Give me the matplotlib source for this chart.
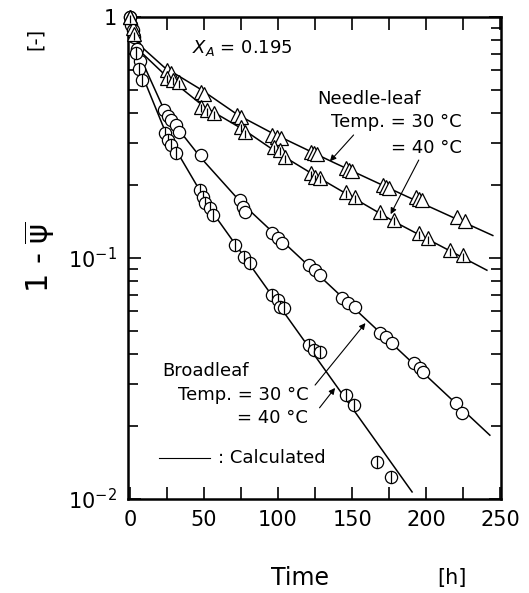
import matplotlib.pyplot as plt
from matplotlib.ticker import NullFormatter

# ---- measured points: broadleaf (circles) ----
b30_t = [0, 1, 3, 5, 7, 23, 26, 28, 31, 33, 48, 74, 76, 78, 96, 100, 103,
         121, 125, 128, 143, 147, 152, 169, 173, 177, 192, 196, 198, 220, 224]
b30_v = [1.0, 0.93, 0.83, 0.74, 0.66, 0.41, 0.39, 0.374, 0.356, 0.333, 0.267,
         0.174, 0.163, 0.155, 0.127, 0.121, 0.115, 0.0935, 0.089, 0.085,
         0.068, 0.065, 0.0626, 0.049, 0.047, 0.0444, 0.0367, 0.035, 0.0336,
         0.025, 0.0228]

b40_t = [0, 2, 4, 6, 8, 24, 26, 28, 31, 47, 49, 51, 54, 56, 71, 77, 81,
         96, 100, 101, 104, 121, 124, 128, 146, 151, 167, 176]
b40_v = [1.0, 0.88, 0.71, 0.61, 0.55, 0.330, 0.309, 0.294, 0.273, 0.191,
         0.179, 0.169, 0.161, 0.151, 0.113, 0.101, 0.0953, 0.0702, 0.067,
         0.0626, 0.062, 0.0435, 0.0415, 0.0407, 0.027, 0.0246, 0.0142, 0.0123]

# ---- measured points: needle-leaf (triangles) ----
n30_t = [0, 2, 25, 28, 48, 50, 72, 75, 96, 99, 102, 122, 124, 126, 146, 148,
         150, 171, 173, 175, 193, 195, 197, 221, 226]
n30_v = [1.0, 0.9, 0.60, 0.585, 0.489, 0.48, 0.392, 0.385, 0.324, 0.318,
         0.315, 0.275, 0.272, 0.270, 0.236, 0.232, 0.229, 0.201, 0.198,
         0.196, 0.179, 0.176, 0.174, 0.148, 0.143]

n40_t = [0, 3, 25, 29, 33, 48, 52, 57, 75, 78, 97, 101, 105, 122, 125, 128,
         146, 152, 169, 178, 195, 201, 216, 225]
n40_v = [1.0, 0.85, 0.56, 0.55, 0.535, 0.424, 0.411, 0.400, 0.35, 0.333,
         0.289, 0.281, 0.262, 0.225, 0.217, 0.215, 0.188, 0.179, 0.155,
         0.144, 0.127, 0.121, 0.108, 0.103]

# ---- calculated curves ----
n30_line_t = [0, 3, 8, 23, 48, 73, 96, 137, 187, 245]
n30_line_v = [1.0, 0.88, 0.75, 0.62, 0.50, 0.392, 0.330, 0.250, 0.180, 0.124]
n40_line_t = [0, 3, 8, 25, 50, 77, 99, 126, 178, 241]
n40_line_v = [1.0, 0.86, 0.71, 0.565, 0.425, 0.340, 0.275, 0.218, 0.142, 0.089]
b30_line_t = [0, 3, 8, 24, 48, 75, 97, 243]
b30_line_v = [1.0, 0.83, 0.66, 0.40, 0.26, 0.170, 0.127, 0.0184]
b40_line_t = [0, 3, 8, 24, 56, 190.5]
b40_line_v = [1.0, 0.80, 0.58, 0.333, 0.154, 0.0107]

x_ticks = [0, 50, 100, 150, 200, 250]
y_ticks = [0.01, 0.1, 1]
y_tick_labels = ['$10^{-2}$', '$10^{-1}$', '1']

fig = plt.figure(figsize=(5.29, 5.93), dpi=100)
ax = fig.add_axes([0.242, 0.1585, 0.705, 0.8128])

for lt, lv in [(n30_line_t, n30_line_v), (n40_line_t, n40_line_v),
               (b30_line_t, b30_line_v), (b40_line_t, b40_line_v)]:
    ax.plot(lt, lv, color='black', lw=1.1, zorder=2)

mk = dict(linestyle='none', markerfacecolor='white', markeredgecolor='black',
          markeredgewidth=0.9, zorder=3, clip_on=False)
# circles / triangles, one by one so that later ones sit on top
for t, v in zip(b30_t, b30_v):
    ax.plot(t, v, marker='o', markersize=8.8, **mk)
for t, v in zip(b40_t, b40_v):
    ax.plot(t, v, marker='o', markersize=8.8, **mk)
    ax.plot(t, v, marker='|', markersize=8.8, color='black', mew=0.9, zorder=3,
            clip_on=False)
for t, v in zip(n30_t, n30_v):
    ax.plot(t, v, marker='^', markersize=9.5, **mk)
for t, v in zip(n40_t, n40_v):
    ax.plot(t, v, marker='^', markersize=9.5, **mk)
    ax.plot(t, v * 0.985, marker='|', markersize=6, color='black', mew=0.9,
            zorder=3, clip_on=False)

ax.set_yscale('log')
ax.set_xlim(-1.3, 250.5)
ax.set_ylim(0.01, 1)
ax.set_xticks(x_ticks)
ax.set_xticks([25, 75, 125, 175, 225], minor=True)
ax.set_yticks(y_ticks, labels=y_tick_labels)
ax.yaxis.set_minor_formatter(NullFormatter())
ax.tick_params(which='both', direction='in', top=True, right=True,
               labelsize=15, width=1.2)
ax.tick_params(axis='x', which='both', length=9, pad=8)
ax.tick_params(axis='y', which='major', length=9, pad=8)
ax.tick_params(axis='y', which='minor', length=7)
for s in ax.spines.values():
    s.set_linewidth(1.8)

# annotations
tf = dict(transform=ax.transAxes, fontsize=13, va='center')
ax.text(0.172, 0.936, '$X_A$ = 0.195', **tf)
ax.text(0.507, 0.830, 'Needle-leaf', **tf)
ax.text(0.895, 0.782, 'Temp. = 30 °C', ha='right', **tf)
ax.text(0.895, 0.728, '= 40 °C', ha='right', **tf)
ax.text(0.091, 0.266, 'Broadleaf', **tf)
ax.text(0.483, 0.216, 'Temp. = 30 °C', ha='right', **tf)
ax.text(0.483, 0.168, '= 40 °C', ha='right', **tf)
ax.plot([0.083, 0.220], [0.085, 0.085], color='black', lw=0.8,
        transform=ax.transAxes)
ax.text(0.241, 0.085, ': Calculated', **tf)

ap = dict(arrowstyle='-|>', color='black', lw=0.8, mutation_scale=9,
          shrinkA=0, shrinkB=0)
ax.annotate('', xy=(135, 0.252), xytext=(151, 0.324), arrowprops=ap)
ax.annotate('', xy=(176, 0.152), xytext=(195, 0.255), arrowprops=ap)
ax.annotate('', xy=(159, 0.0537), xytext=(125, 0.0297), arrowprops=ap)
ax.annotate('', xy=(138.5, 0.0289), xytext=(128, 0.0239), arrowprops=ap)

fig.text(40 / 529, 1 - 257 / 593, r'1 - $\overline{\mathrm{\psi}}$', rotation=90,
         fontsize=22, ha='center', va='center')
fig.text(35 / 529, 1 - 39 / 593, '[-]', rotation=90, fontsize=14,
         ha='center', va='center')
fig.text(300 / 529, 1 - 578 / 593, 'Time', fontsize=17, ha='center', va='center')
fig.text(452 / 529, 1 - 578 / 593, '[h]', fontsize=15, ha='center', va='center')

fig.savefig('out.png', dpi=100)
